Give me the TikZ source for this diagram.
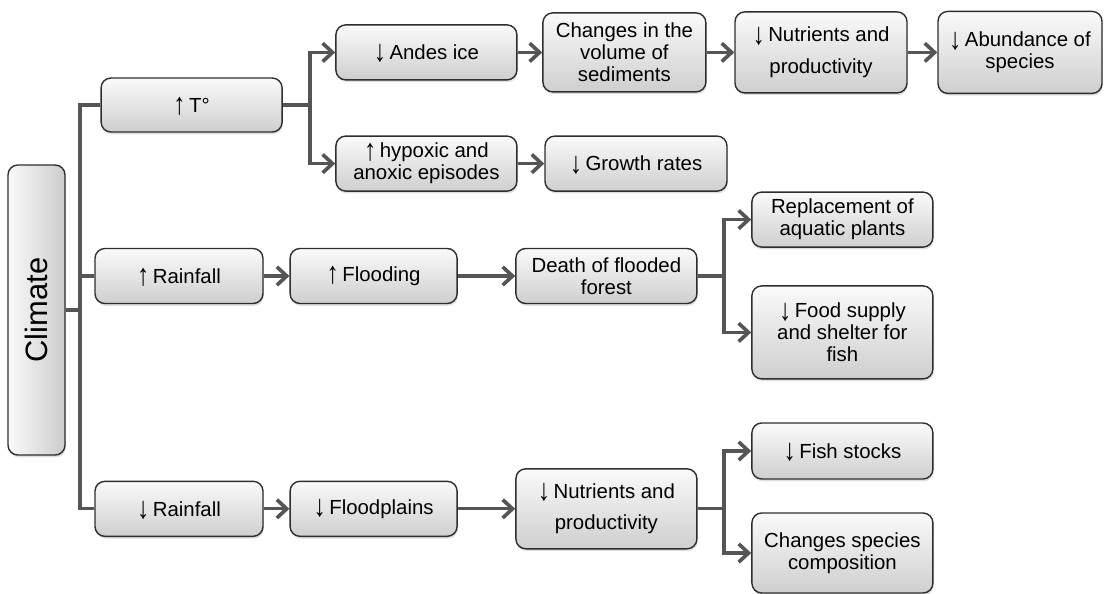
\documentclass[tikz,border=0pt]{standalone}
\usepackage{fontspec}
\setmainfont{Liberation Sans}
\usetikzlibrary{arrows.meta,shadows}
\definecolor{LinkGray}{HTML}{555555}
\definecolor{EdgeGray}{HTML}{2e2e2e}
\newcommand\arrup{\raisebox{-1.6pt}[0.7em][0pt]{\scalebox{1.2}[1.5]{↑}}\hspace{2.5pt}}
\newcommand\arrdn{\raisebox{-1.6pt}[0.7em][0pt]{\scalebox{1.2}[1.5]{↓}}\hspace{2.5pt}}

\begin{document}
\begin{tikzpicture}[
    box/.style={draw=EdgeGray, line width=1pt, rounded corners=7pt,
                top color=gray!4, bottom color=gray!38,
                drop shadow={shadow xshift=0.6pt, shadow yshift=-1.6pt, opacity=0.25},
                minimum width=4.525cm, minimum height=1.375cm, inner sep=2pt,
                font=\fontsize{14.5}{15.5}\selectfont, align=center},
    link/.style={LinkGray, line width=2.4pt},
    arrow/.style={link, -{Straight Barb[length=7pt,width=13pt,line width=2.6pt]}},
  ]
    \useasboundingbox (0,0) rectangle (27.725,-14.825);

    \node[box, minimum width=1.425cm, minimum height=7.25cm, left color=gray!4,
          right color=gray!40, font=\fontsize{22}{24}\selectfont] (clim) at (0.9125,-7.75)
          {\rotatebox{90}{Climate}};

    % first level
    \node[box, minimum height=1.35cm] (temp) at (4.79,-2.625) {\arrup T°};
    \node[box, minimum width=4.2cm] (rainup) at (4.475,-6.9)  {\arrup Rainfall};
    \node[box, minimum width=4.2cm] (raindn) at (4.475,-12.72) {\arrdn Rainfall};

    % temperature row
    \node[box] (ice)   at (10.66,-1.31) {\arrdn Andes ice};
    \node[box] (hypox) at (10.66,-4.09) {\arrup hypoxic and\\anoxic episodes};
    \node[box, minimum width=4.075cm, minimum height=1.975cm] (sedim) at (15.61,-1.31)
          {Changes in the\\volume of\\sediments};
    \node[box, minimum width=4.55cm] (growth) at (15.9,-4.09) {\arrdn Growth rates};
    \node[box, minimum width=4.3cm, minimum height=2.025cm] (nutrup) at (20.525,-1.31)
          {\arrdn Nutrients and\\[7pt]productivity};
    \node[box, minimum width=4.1cm, minimum height=2.05cm] (abund) at (25.5,-1.31)
          {\arrdn Abundance of\\species};

    % more rain
    \node[box, minimum width=4.175cm] (floodup) at (9.34,-6.9) {\arrup Flooding};
    \node[box] (death)  at (15.16,-6.9)  {Death of flooded\\forest};
    \node[box] (plants) at (21.06,-5.49) {Replacement of\\aquatic plants};
    \node[box, minimum height=2.325cm] (food) at (21.06,-8.31)
          {\arrdn Food supply\\and shelter for\\fish};

    % less rain
    \node[box, minimum width=4.175cm] (plains) at (9.34,-12.72) {\arrdn Floodplains};
    \node[box, minimum height=2cm] (nutrdn) at (15.16,-12.72)
          {\arrdn Nutrients and\\[7pt]productivity};
    \node[box, minimum height=1.4cm] (stocks) at (21.06,-11.275) {\arrdn Fish stocks};
    \node[box, minimum height=2cm] (compo) at (21.06,-13.825)
          {Changes species\\composition};

    \coordinate (trunk) at (2.0,-7.75);
    \coordinate (fork1) at (7.75,-2.625);
    \coordinate (fork2) at (18.1,-6.9);
    \coordinate (fork3) at (18.1,-12.72);

    \draw[link] (clim) -- (trunk);
    \draw[link] (temp) -| (trunk) |- (raindn);
    \draw[link] (rainup.west) -- (rainup.west -| trunk);

    \draw[link]  (temp) -- (fork1);
    \draw[arrow] (fork1) |- (ice);
    \draw[arrow] (fork1) |- (hypox);
    \draw[arrow] (ice) -- (sedim);
    \draw[arrow] (sedim) -- (nutrup);
    \draw[arrow] (nutrup) -- (abund);
    \draw[arrow] (hypox) -- (growth);

    \draw[arrow] (rainup) -- (floodup);
    \draw[arrow] (floodup) -- (death);
    \draw[link]  (death) -- (fork2);
    \draw[arrow] (fork2) |- (plants);
    \draw[arrow] (fork2) |- (food);

    \draw[arrow] (raindn) -- (plains);
    \draw[arrow] (plains) -- (nutrdn);
    \draw[link]  (nutrdn) -- (fork3);
    \draw[arrow] (fork3) |- (stocks);
    \draw[arrow] (fork3) |- (compo);
  \end{tikzpicture}
\end{document}
